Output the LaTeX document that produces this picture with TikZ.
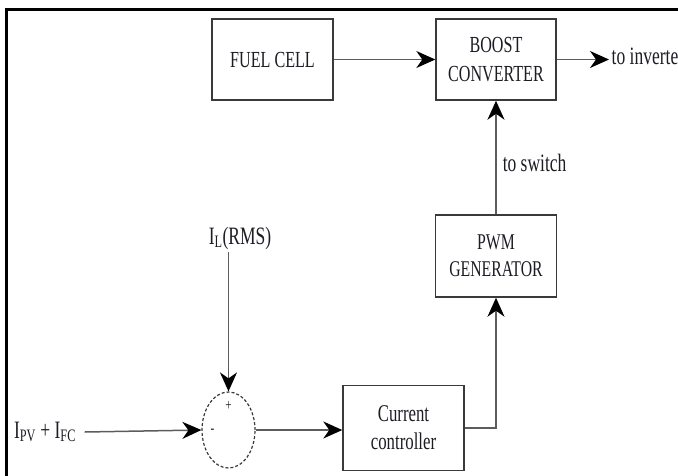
\documentclass[tikz,border=0pt]{standalone}
\usepackage{fontspec}
\setmainfont{Liberation Serif}[FakeStretch=0.7]
\usetikzlibrary{arrows.meta, positioning, shapes.geometric}
\definecolor{cline}{HTML}{5C5C5C}
\definecolor{cbox}{HTML}{3A3A3A}
\definecolor{ctext}{HTML}{1C1C24}
\tikzset{
  every picture/.style={line width=1.4pt},
  box/.style={draw=cbox, rectangle, align=center, text=ctext, font=\fontsize{23}{29}\selectfont, inner sep=0pt},
  arrow/.style={-{Stealth[length=19pt, width=17pt, inset=6pt, color=black]}, draw=cline, line width=1.5pt},
  note/.style={text=ctext, font=\fontsize{25}{28}\selectfont, inner sep=2pt},
  sumnode/.style={draw=cbox, ellipse, densely dashed, line width=1.2pt, minimum width=53pt, minimum height=76pt, inner sep=0pt},
  sign/.style={text=ctext, font=\fontsize{16}{16}\selectfont, inner sep=0pt},
}
\begin{document}
\begin{tikzpicture}[x=1pt, y=-1pt]
  \useasboundingbox (0,0) rectangle (678,475);
  % frame (cut at right and bottom)
  \draw[black, line width=3pt] (6,476) -- (6,9) -- (679,9);

  % blocks
  \node[box, minimum width=121pt, minimum height=81pt] (fuel) at (272.5,59.5) {FUEL CELL};
  \node[box, minimum width=120pt, minimum height=81pt] (boost) at (496,59.5) {BOOST\\CONVERTER};
  \node[box, minimum width=121pt, minimum height=82pt, font=\fontsize{22.5}{27}\selectfont] (pwm) at (496,256) {PWM\\GENERATOR};
  \node[box, minimum width=121pt, minimum height=85pt, font=\fontsize{24}{28}\selectfont] (ctrl) at (403.5,428) {Current\\controller};
  \node[sumnode] (sum) at (228.5,430) {};
  \node[sign] (plus) at ([yshift=24pt]sum.center) {+};
  \node[sign] (minus) at ([xshift=-16pt, yshift=-1pt]sum.center) {-};

  % labels
  \node[note] (il) at (240,238) {I\textsubscript{L}(RMS)};
  \node[note] (ipv) at (45,432) {I\textsubscript{PV} + I\textsubscript{FC}};
  \coordinate (out) at (609,59.5);
  \node[note, anchor=west, inner sep=0pt] (inv) at (611,56) {to inverte};

  % connectors
  \draw[arrow] (fuel.east) -- (boost.west);
  \draw[arrow] (boost.east) -- (out);
  \draw[arrow] (pwm.north) -- node[note, right=4pt, pos=0.45] (sw) {to switch} (boost.south);
  \draw[arrow] (ctrl.east) -| (pwm.south);
  \draw[arrow] ([xshift=6pt]ipv.east) -- (sum.west);
  \draw[arrow] (sum.north |- il.south) -- (sum.north);
  \draw[arrow] (sum.east) -- (sum.east -| ctrl.west);
\end{tikzpicture}
\end{document}
